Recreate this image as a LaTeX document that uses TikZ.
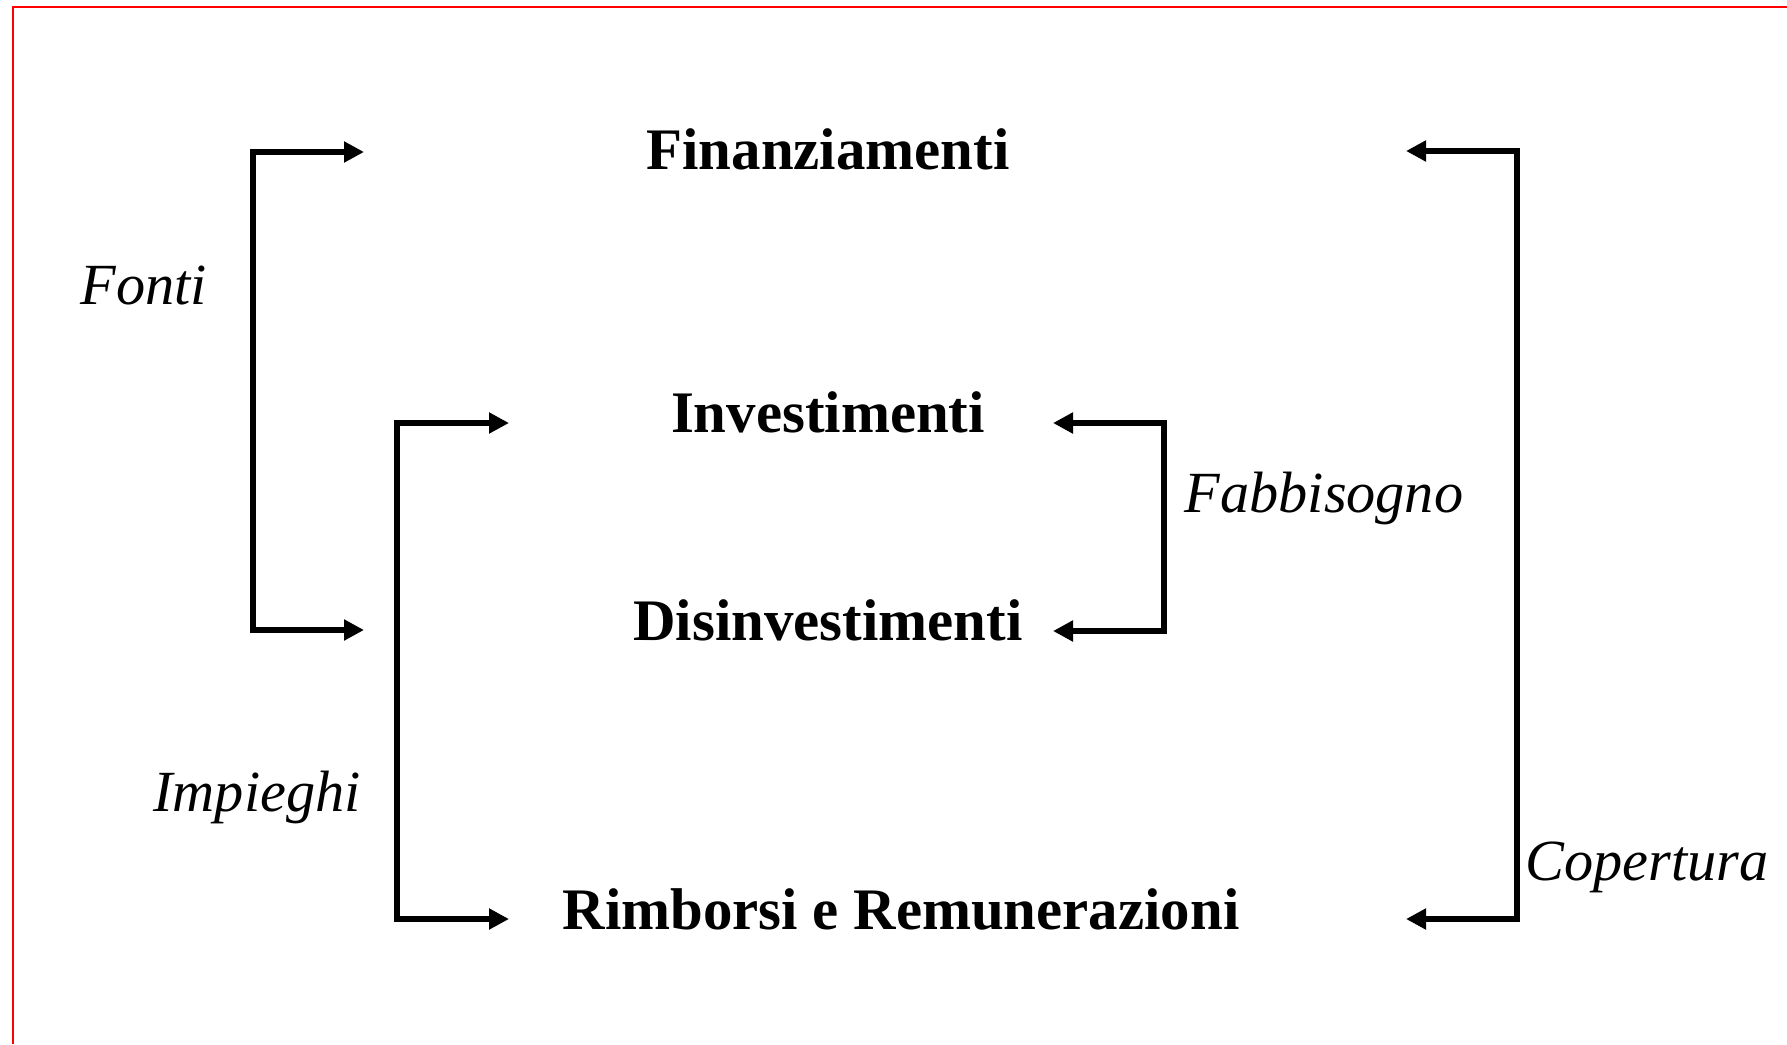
\documentclass[tikz,border=0pt]{standalone}
\usepackage{fontspec}
\setmainfont{Liberation Serif}
\usepackage{tikz}
\usetikzlibrary{arrows.meta}

\begin{document}
\begin{tikzpicture}[x=0.35pt, y=-0.35pt,
        arr/.style={{Triangle[length=7pt,width=7pt]}-{Triangle[length=7pt,width=7pt]}, line width=2.1pt, line join=miter},
        voce/.style={anchor=base, font=\fontsize{20.6}{24}\selectfont\bfseries},
        etich/.style={anchor=base, font=\fontsize{20.4}{24}\selectfont\itshape}]
        \useasboundingbox (0,0) rectangle (1787,1044);
        \draw[red, line width=0.7pt] (13,1044) |- (1787,7);

        \coordinate (F1) at (253,152);
        \coordinate (F2) at (253,630);
        \coordinate (Fa) at (364,152);
        \coordinate (Fb) at (364,630);
        \coordinate (P1) at (397,423);
        \coordinate (P2) at (397,919);
        \coordinate (Pa) at (509,423);
        \coordinate (Pb) at (509,919);
        \coordinate (B1) at (1164,423);
        \coordinate (B2) at (1164,631);
        \coordinate (Ba) at (1053,423);
        \coordinate (Bb) at (1053,631);
        \coordinate (C1) at (1517,151);
        \coordinate (C2) at (1517,919);
        \coordinate (Ca) at (1406,151);
        \coordinate (Cb) at (1406,919);

        \node[voce] (fin) at (828,170) {Finanziamenti};
        \node[voce] (inv) at (828,432) {Investimenti};
        \node[voce] (dis) at (828,640) {Disinvestimenti};
        \node[voce] (rim) at (901,929) {Rimborsi e Remunerazioni};

        \node[etich] (fonti) at (144,304) {Fonti};
        \node[etich] (imp) at (257,811) {Impieghi};
        \node[etich] (fab) at (1324,512) {Fabbisogno};
        \node[etich] (cop) at (1647,880) {Copertura};

        \draw[arr] (Fa) -- (F1) -- (F2) -- (Fb);
        \draw[arr] (Pa) -- (P1) -- (P2) -- (Pb);
        \draw[arr] (Ba) -- (B1) -- (B2) -- (Bb);
        \draw[arr] (Ca) -- (C1) -- (C2) -- (Cb);
    \end{tikzpicture}
\end{document}
